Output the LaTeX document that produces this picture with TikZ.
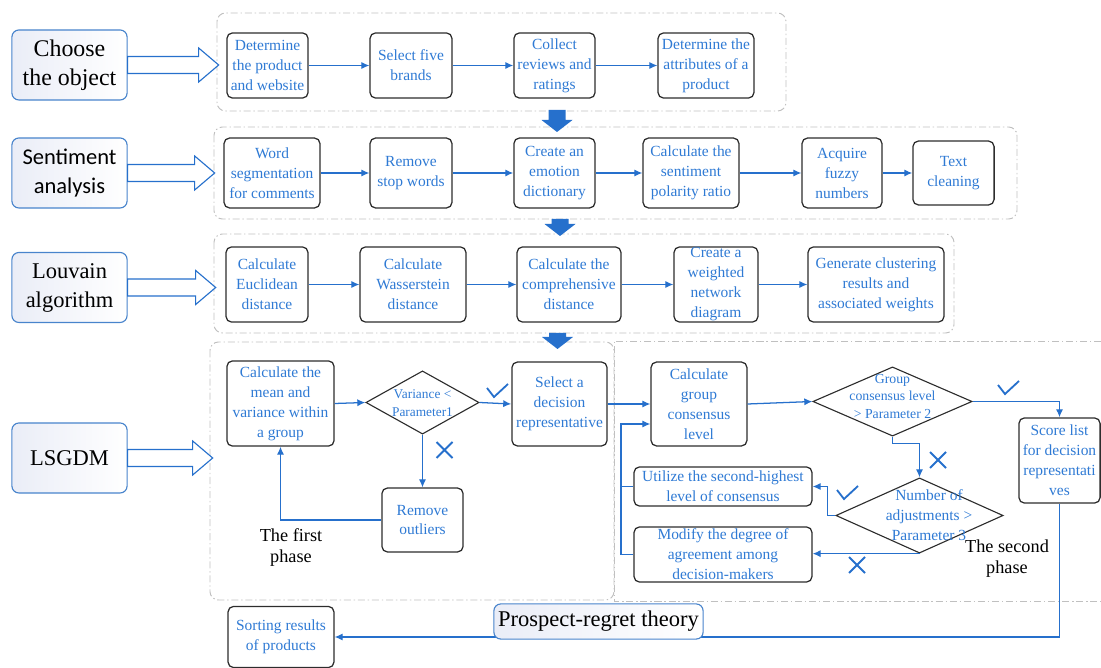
\documentclass[tikz,border=0pt]{standalone}
\usepackage{fontspec}
\setmainfont{Liberation Serif}
\newfontfamily\carlito{Carlito}
\usetikzlibrary{arrows.meta,shapes.geometric}
\definecolor{txtblue}{RGB}{47,122,212}
\definecolor{arrblue}{RGB}{38,112,204}
\definecolor{lblblue}{RGB}{72,132,204}
\definecolor{lblfill}{RGB}{234,237,247}
\definecolor{boxgray}{RGB}{45,45,45}
\definecolor{grpgray}{RGB}{192,192,192}
\tikzset{
  okmark/.pic={\draw[arrblue,line width=1.3pt] (-10,-3) -- (-3,6) -- (11,-7);},
  nomark/.pic={\draw[arrblue,line width=1.3pt] (-8,-8) -- (8,8) (-8,8) -- (8,-8);}
}
\begin{document}
\begin{tikzpicture}[x=0.025cm,y=-0.025cm,
    box/.style={draw=boxgray,line width=0.9pt,rounded corners=4pt,align=center,text=txtblue,
      font=\fontsize{11}{14.2}\selectfont,inner sep=0pt},
    title/.style={draw=lblblue,line width=0.8pt,rounded corners=5pt,left color=lblfill,right color=white,
      align=center,minimum width=2.88cm,minimum height=1.75cm,inner sep=0pt},
    decision/.style={diamond,draw=boxgray,line width=0.8pt,inner sep=0pt},
    dtext/.style={align=center,text=txtblue,inner sep=0pt},
    flow/.style={draw=arrblue,line width=0.9pt,-{Latex[length=2mm,width=1.8mm]}},
    link/.style={draw=arrblue,line width=0.9pt},
    group/.style={draw=grpgray,line width=0.7pt,dash pattern=on 5pt off 2pt on 1pt off 2pt,rounded corners=6pt},
    hollow/.style={draw=arrblue,fill=white,line width=0.8pt,line join=miter},
    phase/.style={align=center,font=\fontsize{13}{15}\selectfont,inner sep=0pt}]
    \useasboundingbox (0,0) rectangle (1101,668);

    % Group frames
    \draw[group] (217,13) rectangle (786,111);
    \draw[group] (214,127) rectangle (1017,219);
    \draw[group] (214,234) rectangle (954,333);
    \draw[group] (210,342) rectangle (614,600);
    \draw[group,rounded corners=0pt] (1101,341) -- (614,341) -- (614,601) -- (1101,601);

    % Block arrows between groups
    \foreach \x/\a/\b in {557/110/132, 560/219/236, 557.5/333/349}
      \fill[arrblue] (\x-8.5,\a) -- (\x+8.5,\a) -- (\x+8.5,\b-12) -- (\x+15.5,\b-12)
        -- (\x,\b) -- (\x-15.5,\b-12) -- (\x-8.5,\b-12) -- cycle;

    % Stage labels
    \node[title,font=\fontsize{17}{20.6}\selectfont] (L1) at (69.5,65) {Choose\\the object};
    \node[title,font=\carlito\fontsize{16}{20}\selectfont] (L2) at (69.5,173) {Sentiment\\analysis};
    \node[title,font=\fontsize{16}{20.6}\selectfont] (L3) at (69.5,287.5) {Louvain\\algorithm};
    \node[title,font=\fontsize{16}{20.6}\selectfont] (L4) at (69.5,458) {LSGDM};

    % Hollow arrows
    \foreach \n/\s in {1/71, 2/67, 3/68, 4/65}
      \draw[hollow] (L\n.east) ++(0,-8.5) -- ++(\s,0) -- ++(0,-8.5) -- ++(20,17)
        -- ++(-20,17) -- ++(0,-8.5) -- ++(-\s,0) -- cycle;

    % Choose the object
    \node[box,minimum width=2.03cm,minimum height=1.63cm] (B1) at (267.5,65.5) {Determine\\the product\\and website};
    \node[box,minimum width=2.05cm,minimum height=1.63cm] (B2) at (411,65.5) {Select five\\brands};
    \node[box,minimum width=2.03cm,minimum height=1.63cm] (B3) at (554.5,65.5) {Collect\\reviews and\\ratings};
    \node[box,minimum width=2.4cm,minimum height=1.63cm] (B4) at (706,65.5) {Determine the\\attributes of a\\product};
    \draw[flow] (B1) -- (B2);
    \draw[flow] (B2) -- (B3);
    \draw[flow] (B3) -- (B4);

    % Sentiment analysis
    \node[box,minimum width=2.4cm,minimum height=1.75cm] (C1) at (272,173) {Word\\segmentation\\for comments};
    \node[box,minimum width=2.05cm,minimum height=1.75cm] (C2) at (411,173) {Remove\\stop words};
    \node[box,minimum width=2.03cm,minimum height=1.75cm] (C3) at (554.5,173) {Create an\\emotion\\dictionary};
    \node[box,minimum width=2.4cm,minimum height=1.75cm] (C4) at (691,173) {Calculate the\\sentiment\\polarity ratio};
    \node[box,minimum width=2.0cm,minimum height=1.75cm] (C5) at (842,173) {Acquire\\fuzzy\\numbers};
    \node[box,minimum width=2.03cm,minimum height=1.6cm] (C6) at (953.5,173) {Text\\cleaning};
    \foreach \a/\b in {C1/C2, C2/C3, C3/C4, C4/C5, C5/C6}
      \draw[flow] (\a) -- (\b);

    % Louvain algorithm
    \node[box,minimum width=2.05cm,minimum height=1.88cm] (D1) at (267,284.5) {Calculate\\Euclidean\\distance};
    \node[box,minimum width=2.65cm,minimum height=1.88cm] (D2) at (413,284.5) {Calculate\\Wasserstein\\distance};
    \node[box,minimum width=2.6cm,minimum height=1.88cm] (D3) at (569,284.5) {Calculate the\\comprehensive\\distance};
    \node[box,minimum width=2.1cm,minimum height=1.88cm] (D4) at (716,284.5) {Create a\\weighted\\network\\diagram};
    \node[box,minimum width=3.4cm,minimum height=1.88cm] (D5) at (876,284.5) {Generate clustering\\results and\\associated weights};
    \foreach \a/\b in {D1/D2, D2/D3, D3/D4, D4/D5}
      \draw[flow] (\a) -- (\b);

    % LSGDM, first phase
    \node[box,minimum width=2.68cm,minimum height=2.13cm] (E1) at (280.5,403.5) {Calculate the\\mean and\\variance within\\a group};
    \node[decision,minimum width=2.83cm,minimum height=1.58cm] (Q1) at (422.5,402.5) {};
    \node[dtext,font=\fontsize{9.5}{12.8}\selectfont] (Q1t) at (422.5,403) {Variance <\\Parameter1};
    \node[box,minimum width=2.38cm,minimum height=2.1cm] (E2) at (559.5,404) {Select a\\decision\\representative};
    \node[box,minimum width=2.03cm,minimum height=1.6cm] (E3) at (422.5,520) {Remove\\outliers};
    \draw[flow] (E1.east) -- (Q1.west);
    \draw[flow] (Q1.east) -- (E2.west);
    \draw[flow] (Q1.south) -- (E3.north);
    \draw[flow] (E3.west) -| (E1.south);
    \pic at (497,391) {okmark};
    \pic at (444.5,450) {nomark};
    \node[phase] (P1) at (291,547.5) {The first\\phase};

    % LSGDM, second phase
    \node[box,minimum width=2.4cm,minimum height=2.1cm] (G1) at (699,404) {Calculate\\group\\consensus\\level};
    \node[decision,minimum width=3.98cm,minimum height=1.73cm] (Q2) at (892.5,401.5) {};
    \node[dtext,font=\fontsize{9.8}{12.4}\selectfont] (Q2t) at (892.5,396.5) {Group\\consensus level\\> Parameter 2};
    \node[box,minimum width=2.03cm,minimum height=2.13cm] (S1) at (1059.5,460.5) {Score list\\for decision\\representati\\ves};
    \node[decision,minimum width=4.18cm,minimum height=1.88cm] (Q3) at (919.5,515.5) {};
    \node[dtext,font=\fontsize{11}{14.2}\selectfont] (Q3t) at (929,515) {Number of\\adjustments >\\Parameter 3};
    \node[box,minimum width=4.45cm,minimum height=0.98cm] (U1) at (723,486.5) {Utilize the second-highest\\level of consensus};
    \node[box,minimum width=4.45cm,minimum height=1.38cm] (M1) at (723,554.5) {Modify the degree of\\agreement among\\decision-makers};
    \coordinate (K) at (621,424);
    \draw[flow] (E2.east) -- (G1.west);
    \draw[flow] (G1.east) -- (Q2.west);
    \draw[flow] (Q2.east) -| (S1.north);
    \draw[flow] (Q2.south) -- ++(0,6.5) -| (Q3.north);
    \draw[flow] (Q3.west) -- ++(-8,0) |- (U1.east);
    \draw[flow] (Q3.south) -- (Q3.south -| M1.east);
    \draw[link] (U1.west) -- (U1.west -| K);
    \draw[flow] (M1.west) -| (K) -- (K -| G1.west);
    \pic at (1008,388) {okmark};
    \pic at (938,460) {nomark};
    \pic at (847,493) {okmark};
    \pic at (857,565) {nomark};
    \node[phase] (P2) at (1007,559) {The second\\phase};

    % Prospect-regret theory
    \node[box,minimum width=2.65cm,minimum height=1.53cm] (R1) at (281,637) {Sorting results\\of products};
    \draw[flow] (S1.south) |- (R1.east);
    \node[title,minimum width=5.23cm,minimum height=0.88cm,font=\fontsize{16}{18}\selectfont] (PR) at (598.5,621.5) {Prospect-regret theory};
\end{tikzpicture}
\end{document}
